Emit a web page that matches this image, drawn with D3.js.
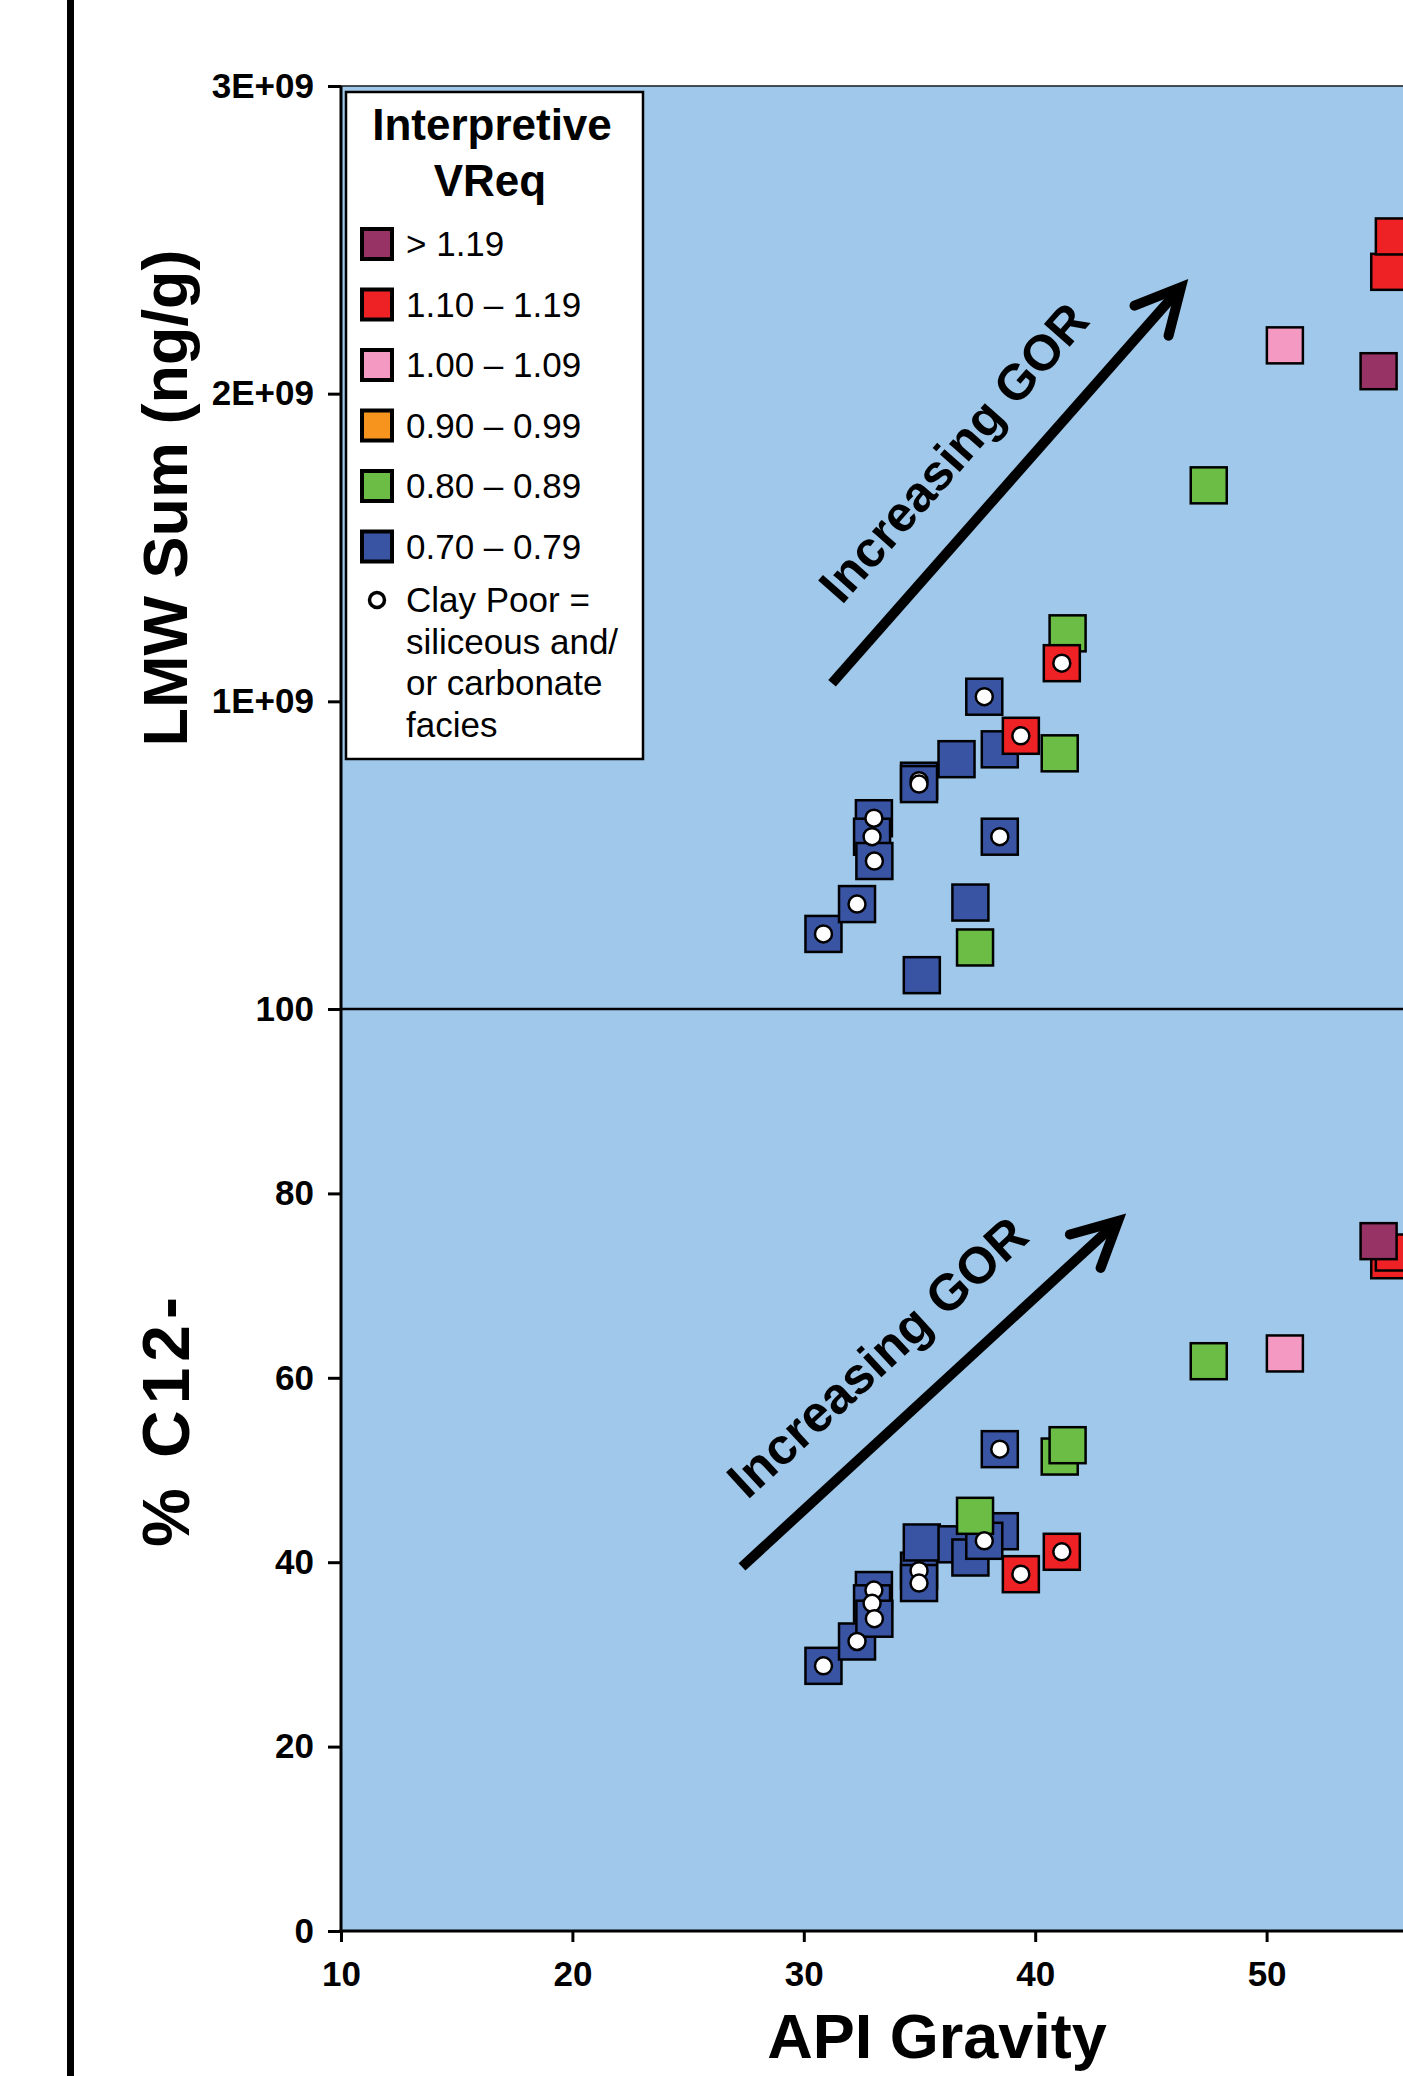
<!DOCTYPE html>
<html><head><meta charset="utf-8">
<script src="https://cdn.jsdelivr.net/npm/d3@7/dist/d3.min.js"></script>
<style>
html,body{margin:0;padding:0;background:#fff;}
svg{display:block;}
text{font-family:"Liberation Sans",Arial,Helvetica,sans-serif;}
</style>
</head><body>
<svg id="chart" width="1403" height="2076"></svg>
<script>
// ---------------- DATA ----------------
const xTickValues = [10, 20, 30, 40, 50];
const topTickValues = [0, 1e9, 2e9, 3e9];
const topTickLabels = ["", "1E+09", "2E+09", "3E+09"];
const bottomTickValues = [0, 20, 40, 60, 80, 100];

const classes = ["gt119", "110_119", "100_109", "090_099", "080_089", "070_079"];
const legendLabels = ["> 1.19", "1.10 \u2013 1.19", "1.00 \u2013 1.09", "0.90 \u2013 0.99", "0.80 \u2013 0.89", "0.70 \u2013 0.79"];
const classColors = ["#983366", "#EE2225", "#F49AC2", "#F7941E", "#6BBD45", "#3A54A4"];
const drawOrder = ["070_079", "080_089", "110_119", "100_109", "gt119"];
const clayPoorLabel = ["Clay Poor =", "siliceous and/", "or carbonate", "facies"];

// samples: API gravity, LMW sum (ng/g), % C12-, VReq class, clay poor flag
const apiGravity = [30.85, 32.3, 33.03, 32.95, 33.05, 34.98, 34.98, 35.1, 36.6, 37.2, 38.47, 37.8, 38.47,
                    37.4, 41.06, 41.4, 47.5, 39.38, 41.15, 55.3, 55.5, 50.79, 54.84];
const lmwSum = [0.244e9, 0.341e9, 0.620e9, 0.560e9, 0.481e9, 0.742e9, 0.731e9, 0.110e9, 0.812e9, 0.346e9, 0.844e9, 1.015e9, 0.560e9,
                0.200e9, 0.831e9, 1.221e9, 1.702e9, 0.888e9, 1.124e9, 2.396e9, 2.511e9, 2.157e9, 2.073e9];
const pctC12 = [28.76, 31.40, 36.98, 35.54, 33.87, 39.08, 37.74, 42.14, 41.94, 40.51, 43.36, 42.32, 52.26,
                45.03, 51.46, 52.69, 61.80, 38.70, 41.13, 72.75, 73.59, 62.64, 74.82];
const vreqClass = ["070_079","070_079","070_079","070_079","070_079","070_079","070_079","070_079","070_079","070_079","070_079","070_079","070_079",
                   "080_089","080_089","080_089","080_089","110_119","110_119","110_119","110_119","100_109","gt119"];
const clayPoor = [1,1,1,1,1,1,1,0,0,0,0,1,1, 0,0,0,0, 1,1, 0,0, 0, 0];

// annotation arrows (data coordinates)
const arrowTop = {x0: 31.22, y0: 1.059e9, x1: 46.3, y1: 2.346e9, tx: 36.45, ty: 1.81e9, label: "Increasing GOR"};
const arrowBottom = {x0: 27.33, y0: 39.5, x1: 43.58, y1: 77.0, tx: 33.15, ty: 62.3, label: "Increasing GOR"};

// ---------------- LAYOUT ----------------
const W = 1403, H = 2076;
const plotLeft = 341, plotRight = 1498, plotTop = 86, plotMid = 1009, plotBottom = 1931;
const svg = d3.select("#chart");
const colorOf = c => classColors[classes.indexOf(c)];

const x = d3.scaleLinear().domain([10, 60]).range([plotLeft, plotRight]);
const yTop = d3.scaleLinear().domain([0, 3e9]).range([plotMid, plotTop]);
const yBot = d3.scaleLinear().domain([0, 100]).range([plotBottom, plotMid]);

// left black frame bar
svg.append("rect").attr("x", 67).attr("y", 0).attr("width", 7).attr("height", H).attr("fill", "#000");

// plot background
svg.append("rect").attr("x", plotLeft).attr("y", plotTop)
  .attr("width", plotRight - plotLeft).attr("height", plotBottom - plotTop)
  .attr("fill", "#9FC8EA").attr("stroke", "#1a1a1a").attr("stroke-width", 1.5);

// divider between panels
svg.append("line").attr("x1", plotLeft).attr("x2", plotRight)
  .attr("y1", plotMid).attr("y2", plotMid).attr("stroke", "#000").attr("stroke-width", 2.5);

// axes
function styleAxis(g, fs) {
  g.select(".domain").remove();
  g.selectAll(".tick line").attr("stroke", "#000").attr("stroke-width", 3);
  g.selectAll(".tick text").attr("font-size", fs).attr("font-weight", "bold").attr("fill", "#000")
    .attr("font-family", "'Liberation Sans', Arial, sans-serif");
}
const gTop = svg.append("g").attr("transform", `translate(${plotLeft},0)`)
  .call(d3.axisLeft(yTop).tickValues(topTickValues).tickSize(13).tickPadding(14)
    .tickFormat((d, i) => topTickLabels[i]));
styleAxis(gTop, 35);
const gBot = svg.append("g").attr("transform", `translate(${plotLeft},0)`)
  .call(d3.axisLeft(yBot).tickValues(bottomTickValues).tickSize(13).tickPadding(14));
styleAxis(gBot, 35);
const gX = svg.append("g").attr("transform", `translate(0,${plotBottom})`)
  .call(d3.axisBottom(x).tickValues(xTickValues).tickSize(11).tickPadding(19));
styleAxis(gX, 35);

// axis lines
svg.append("line").attr("x1", plotLeft).attr("x2", plotLeft).attr("y1", plotTop).attr("y2", plotBottom + 1.5)
  .attr("stroke", "#000").attr("stroke-width", 3);
svg.append("line").attr("x1", plotLeft - 1.5).attr("x2", plotRight).attr("y1", plotBottom).attr("y2", plotBottom)
  .attr("stroke", "#000").attr("stroke-width", 3);

// axis titles
svg.append("text").attr("transform", "translate(187,498) rotate(-90)")
  .attr("text-anchor", "middle").attr("font-size", 63).attr("font-weight", "bold").text("LMW Sum (ng/g)");
svg.append("text").attr("transform", "translate(189,1419) rotate(-90)")
  .attr("text-anchor", "middle").attr("font-size", 66).attr("font-weight", "bold")
  .attr("letter-spacing", 6).text("% C12-");
svg.append("text").attr("x", 937).attr("y", 2058)
  .attr("text-anchor", "middle").attr("font-size", 63).attr("font-weight", "bold").text("API Gravity");

// data
const samples = apiGravity.map((a, i) => ({api: a, lmw: lmwSum[i], c12: pctC12[i], cls: vreqClass[i], clay: clayPoor[i], idx: i}));
const ordered = drawOrder.flatMap(c => samples.filter(s => s.cls === c));
const SQ = 36;

function drawPanel(yScale, key) {
  const g = svg.append("g");
  g.selectAll("rect.pt").data(ordered).join("rect").attr("class", "pt")
    .attr("x", d => x(d.api) - SQ / 2).attr("y", d => yScale(d[key]) - SQ / 2)
    .attr("width", SQ).attr("height", SQ)
    .attr("fill", d => colorOf(d.cls)).attr("stroke", "#000").attr("stroke-width", 2.5);
  g.selectAll("circle.cp").data(samples.filter(s => s.clay)).join("circle").attr("class", "cp")
    .attr("cx", d => x(d.api)).attr("cy", d => yScale(d[key])).attr("r", 8.5)
    .attr("fill", "#fff").attr("stroke", "#000").attr("stroke-width", 2.5);
}
drawPanel(yTop, "lmw");
drawPanel(yBot, "c12");

// arrows
function drawArrow(a, yScale, fs) {
  const x0 = x(a.x0), y0 = yScale(a.y0), x1 = x(a.x1), y1 = yScale(a.y1);
  const dx = x1 - x0, dy = y1 - y0, len = Math.hypot(dx, dy);
  const ux = dx / len, uy = dy / len;
  const g = svg.append("g");
  g.append("line").attr("x1", x0).attr("y1", y0).attr("x2", x1 - ux * 8).attr("y2", y1 - uy * 8)
    .attr("stroke", "#000").attr("stroke-width", 10);
  const bl = 50, ang = 27 * Math.PI / 180;
  const rot = (vx, vy, t) => [vx * Math.cos(t) - vy * Math.sin(t), vx * Math.sin(t) + vy * Math.cos(t)];
  const b1 = rot(-ux, -uy, ang), b2 = rot(-ux, -uy, -ang);
  g.append("path").attr("d", `M${x1 + b1[0] * bl},${y1 + b1[1] * bl} L${x1},${y1} L${x1 + b2[0] * bl},${y1 + b2[1] * bl}`)
    .attr("fill", "none").attr("stroke", "#000").attr("stroke-width", 10)
    .attr("stroke-linecap", "round").attr("stroke-linejoin", "miter").attr("stroke-miterlimit", 6);
  const angleDeg = Math.atan2(dy, dx) * 180 / Math.PI;
  g.append("text").attr("transform", `translate(${x(a.tx)},${yScale(a.ty)}) rotate(${angleDeg})`)
    .attr("text-anchor", "middle").attr("dy", "0.36em").attr("font-size", fs).attr("font-weight", "bold")
    .text(a.label);
}
drawArrow(arrowTop, yTop, 50);
drawArrow(arrowBottom, yBot, 51);

// legend
const lg = svg.append("g");
lg.append("rect").attr("x", 346).attr("y", 92).attr("width", 297).attr("height", 667)
  .attr("fill", "#fff").attr("stroke", "#000").attr("stroke-width", 2.5);
lg.append("text").attr("x", 492).attr("y", 140).attr("text-anchor", "middle")
  .attr("font-size", 44).attr("font-weight", "bold").text("Interpretive");
lg.append("text").attr("x", 490).attr("y", 196).attr("text-anchor", "middle")
  .attr("font-size", 44).attr("font-weight", "bold").text("VReq");
const itemY = d3.scaleLinear().domain([0, 5]).range([244, 546.5]);
legendLabels.forEach((lab, i) => {
  lg.append("rect").attr("x", 377 - 15).attr("y", itemY(i) - 15).attr("width", 30).attr("height", 30)
    .attr("fill", classColors[i]).attr("stroke", "#000").attr("stroke-width", 4);
  lg.append("text").attr("x", 406).attr("y", itemY(i) + 12).attr("font-size", 35).text(lab);
});
lg.append("circle").attr("cx", 377).attr("cy", 600).attr("r", 7.5)
  .attr("fill", "#fff").attr("stroke", "#000").attr("stroke-width", 3.5);
clayPoorLabel.forEach((t, i) => {
  lg.append("text").attr("x", 406).attr("y", 612 + i * 41.7).attr("font-size", 35).text(t);
});
</script>
</body></html>
